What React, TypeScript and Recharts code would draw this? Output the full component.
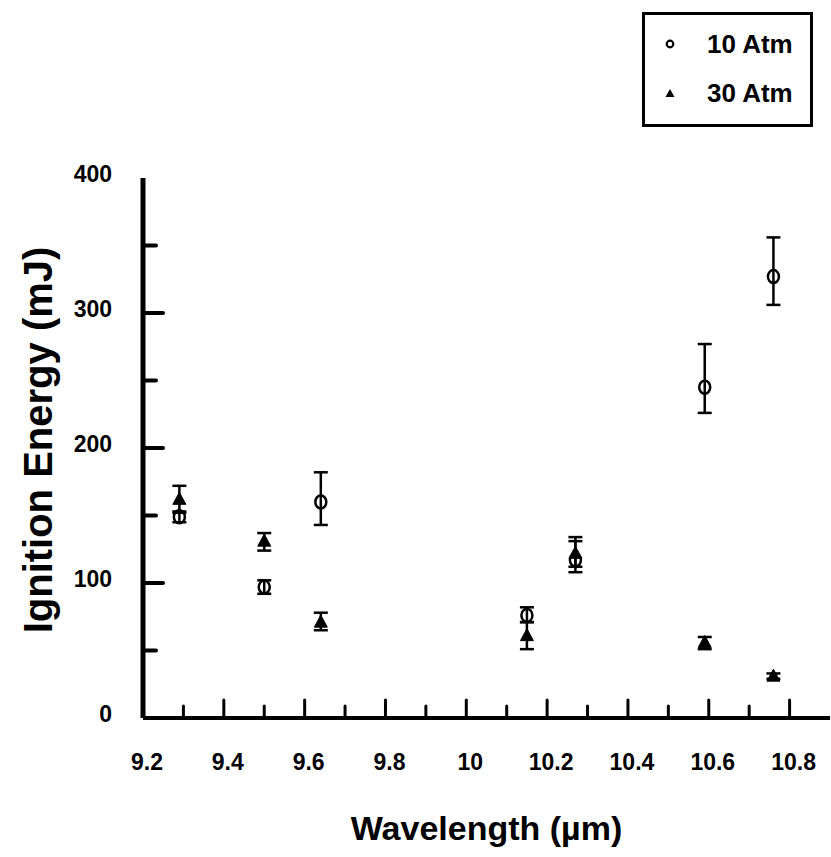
import React from 'react';
import { ScatterChart, Scatter, XAxis, YAxis, ErrorBar, Legend } from 'recharts';

// ---- data ----
const wavelengths = [9.29, 9.5, 9.64, 10.15, 10.27, 10.59, 10.76];

const energy10 = [149, 97, 160, 76, 117, 245, 327];
const low10 = [145, 92, 143, 71, 108, 226, 306];
const high10 = [153, 102, 182, 82, 131, 277, 356];

const energy30 = [162, 131, 71, 61, 122, 56, 31];
const low30 = [152, 124, 65, 51, 112, 51, 29];
const high30 = [172, 137, 78, 71, 134, 60, 33];

const xTicks = [9.2, 9.3, 9.4, 9.5, 9.6, 9.7, 9.8, 9.9, 10, 10.1, 10.2, 10.3, 10.4, 10.5, 10.6, 10.7, 10.8];
const xLabels = ['9.2', '9.4', '9.6', '9.8', '10', '10.2', '10.4', '10.6', '10.8'];
const yTicks = [0, 50, 100, 150, 200, 250, 300, 350, 400];
const yLabels = ['0', '100', '200', '300', '400'];

const seriesNames = ['10 Atm', '30 Atm'];
const xTitle = 'Wavelength (µm)';
const yTitle = 'Ignition Energy (mJ)';

const FONT = '"Liberation Sans", Arial, Helvetica, sans-serif';

const build = (e: number[], lo: number[], hi: number[]) =>
  wavelengths.map((w, i) => ({ x: w, y: e[i], err: [e[i] - lo[i], hi[i] - e[i]] }));

const data10 = build(energy10, low10, high10);
const data30 = build(energy30, low30, high30);

const xLabelOf = (v: number) => xLabels.find((l) => Math.abs(parseFloat(l) - v) < 1e-6);
const yLabelOf = (v: number) => yLabels.find((l) => Math.abs(parseFloat(l) - v) < 1e-6);

const BottomTick = (props: any) => {
  const { x, y, payload } = props;
  const v = payload.value;
  const lab = xLabelOf(v);
  const len = lab ? 18 : 12;
  return (
    <g>
      {v > 9.2 + 1e-6 && (
        <line x1={x} x2={x} y1={y} y2={y - len} stroke="#000" strokeWidth={3} strokeLinecap="round" />
      )}
      {lab && (
        <text x={x + 4} y={y + 52} textAnchor="middle" fontFamily={FONT} fontWeight="bold" fontSize={23} fill="#000">
          {lab}
        </text>
      )}
    </g>
  );
};

const TopTick = (props: any) => {
  const { x, y, payload } = props;
  const v = payload.value;
  const lab = xLabelOf(v);
  const len = lab ? 18 : 12;
  if (v <= 9.2 + 1e-6) return <g />;
  return (
    <g>
      <line x1={x} x2={x} y1={y} y2={y + len} stroke="#000" strokeWidth={3} strokeLinecap="round" />
    </g>
  );
};

const LeftTick = (props: any) => {
  const { x, y, payload } = props;
  const v = payload.value;
  const lab = yLabelOf(v);
  const len = lab ? 20 : 13;
  return (
    <g>
      {v > 0 && v < 400 && (
        <line x1={x} x2={x + len} y1={y} y2={y} stroke="#000" strokeWidth={4} strokeLinecap="round" />
      )}
      {lab && (
        <text x={x - 31} y={y + 4} textAnchor="end" fontFamily={FONT} fontWeight="bold" fontSize={23} fill="#000">
          {lab}
        </text>
      )}
    </g>
  );
};

const RightTick = (props: any) => {
  const { x, y, payload } = props;
  const v = payload.value;
  const lab = yLabelOf(v);
  const len = lab ? 18 : 12;
  if (v <= 0 || v >= 400) return <g />;
  return (
    <g>
      <line x1={x} x2={x - len} y1={y} y2={y} stroke="#000" strokeWidth={4} strokeLinecap="round" />
    </g>
  );
};

const OpenCircle = (props: any) => {
  const { cx, cy } = props;
  if (cx == null || cy == null) return <g />;
  return <ellipse cx={cx} cy={cy} rx={5.5} ry={6.5} fill="none" stroke="#000" strokeWidth={2.5} />;
};

const FilledTriangle = (props: any) => {
  const { cx, cy } = props;
  if (cx == null || cy == null) return <g />;
  return <polygon points={`${cx},${cy - 7} ${cx + 6.5},${cy + 5} ${cx - 6.5},${cy + 5}`} fill="#000" stroke="#000" strokeWidth={1} />;
};

const LegendBox = () => (
  <svg width={171} height={115}>
    <rect x={1.5} y={1.5} width={168} height={112} fill="#fff" stroke="#000" strokeWidth={3} />
    <circle cx={28} cy={32} r={3.3} fill="none" stroke="#000" strokeWidth={2.2} />
    <text x={65} y={41} fontFamily={FONT} fontWeight="bold" fontSize={26} fill="#000">
      {seriesNames[0]}
    </text>
    <polygon points="28,77 32.5,85 23.5,85" fill="#000" />
    <text x={65} y={90} fontFamily={FONT} fontWeight="bold" fontSize={26} fill="#000">
      {seriesNames[1]}
    </text>
  </svg>
);

const YTitle = (props: any) => {
  const vb = props.viewBox || { x: 0, y: 178, width: 143, height: 540 };
  const cx = vb.x + 38;
  const cy = vb.y + vb.height / 2 - 8;
  return (
    <text
      x={cx}
      y={cy}
      transform={`rotate(-90, ${cx}, ${cy})`}
      textAnchor="middle"
      dominantBaseline="central"
      fontFamily={FONT}
      fontWeight="bold"
      fontSize={40}
      fill="#000"
    >
      {yTitle}
    </text>
  );
};

const XTitle = (props: any) => {
  const vb = props.viewBox || { x: 143, y: 718, width: 687, height: 139 };
  const cx = vb.x + vb.width / 2;
  const cy = vb.y + 110;
  return (
    <text x={cx} y={cy} textAnchor="middle" dominantBaseline="central" fontFamily={FONT} fontWeight="bold" fontSize={34} fill="#000">
      {xTitle}
    </text>
  );
};

export default function App() {
  return (
    <div style={{ position: 'absolute', left: 0, top: 0, background: '#fff' }}>
      <ScatterChart width={831} height={857} margin={{ top: 178, right: 1, bottom: 0, left: 0 }}>
        <XAxis
          xAxisId="b"
          type="number"
          dataKey="x"
          domain={[9.2, 10.9]}
          allowDataOverflow
          ticks={xTicks}
          interval={0}
          orientation="bottom"
          height={139}
          tickSize={0}
          tickMargin={0}
          tickLine={false}
          axisLine={{ stroke: '#000', strokeWidth: 4 }}
          tick={<BottomTick />}
          label={<XTitle />}
        />
        <XAxis
          xAxisId="t"
          type="number"
          dataKey="x"
          domain={[9.2, 10.9]}
          allowDataOverflow
          ticks={xTicks}
          interval={0}
          orientation="top"
          height={0}
          tickSize={0}
          tickMargin={0}
          tickLine={false}
          axisLine={{ stroke: '#000', strokeWidth: 4 }}
          tick={<TopTick />}
        />
        <YAxis
          yAxisId="l"
          type="number"
          dataKey="y"
          domain={[0, 400]}
          allowDataOverflow
          ticks={yTicks}
          interval={0}
          orientation="left"
          width={143}
          tickSize={0}
          tickMargin={0}
          tickLine={false}
          axisLine={{ stroke: '#000', strokeWidth: 5 }}
          tick={<LeftTick />}
          label={<YTitle />}
        />
        <YAxis
          yAxisId="r"
          type="number"
          dataKey="y"
          domain={[0, 400]}
          allowDataOverflow
          ticks={yTicks}
          interval={0}
          orientation="right"
          width={0}
          tickSize={0}
          tickMargin={0}
          tickLine={false}
          axisLine={{ stroke: '#000', strokeWidth: 2.5 }}
          tick={<RightTick />}
        />
        <Scatter
          name={seriesNames[0]}
          data={data10}
          xAxisId="b"
          yAxisId="l"
          shape={<OpenCircle />}
          isAnimationActive={false}
        >
          <ErrorBar dataKey="err" direction="y" width={7} stroke="#000" strokeWidth={2.5} isAnimationActive={false} />
        </Scatter>
        <Scatter
          name={seriesNames[1]}
          data={data30}
          xAxisId="b"
          yAxisId="l"
          shape={<FilledTriangle />}
          isAnimationActive={false}
        >
          <ErrorBar dataKey="err" direction="y" width={7} stroke="#000" strokeWidth={2.5} isAnimationActive={false} />
        </Scatter>
        <Legend
          layout="vertical"
          align="center"
          verticalAlign="middle"
          wrapperStyle={{ position: 'absolute', left: 642, top: 12, width: 171, height: 115, margin: 0, padding: 0 }}
          content={() => <LegendBox />}
        />
      </ScatterChart>
    </div>
  );
}
